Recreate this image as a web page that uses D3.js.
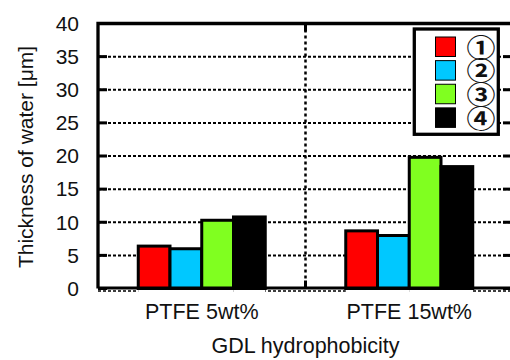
<!DOCTYPE html>
<html>
<head>
<meta charset="utf-8">
<script src="https://cdn.jsdelivr.net/npm/d3@7"></script>
<style>
	body { margin: 0; background: #fff; }
	text { font-family: 'Liberation Sans', Arial, sans-serif; fill: #111; }
</style>
</head>
<body>
<div id="chart"></div>
<script>
// data
const categories = ['PTFE 5wt%', 'PTFE 15wt%']
const series = ['①', '②', '③', '④']
const series1 = [6.4, 8.7]
const series2 = [6.0, 8.0]
const series3 = [10.3, 19.8]
const series4 = [10.8, 18.4]
const yTicks = [0, 5, 10, 15, 20, 25, 30, 35, 40]
const colors = ['#ff0000', '#00c8ff', '#80ff20', '#000000']

const values = [series1, series2, series3, series4]

const WIDTH = 510
const HEIGHT = 360
const LEFT = 98
const RIGHT = 513 // right border sits just outside the picture
const TOP = 23.5
const BOTTOM = 288.5
const GROUP_WIDTH = 127

const svg = d3.select('#chart').append('svg').attr('width', WIDTH).attr('height', HEIGHT)

const xScale = d3.scaleBand().domain(categories).range([LEFT, RIGHT])
const innerScale = d3
	.scaleBand()
	.domain(series)
	.range([(xScale.bandwidth() - GROUP_WIDTH) / 2, (xScale.bandwidth() + GROUP_WIDTH) / 2])
const yScale = d3.scaleLinear().domain([0, 40]).range([BOTTOM, TOP])

// grid lines
svg
	.append('g')
	.selectAll('line')
	.data(yTicks.filter(t => t > 0 && t < 40))
	.join('line')
	.attr('x1', LEFT)
	.attr('x2', RIGHT)
	.attr('y1', d => yScale(d))
	.attr('y2', d => yScale(d))
	.attr('stroke', '#000')
	.attr('stroke-width', 2)
	.attr('stroke-dasharray', '3,2')

// dotted line just under the x axis
svg
	.append('line')
	.attr('x1', LEFT)
	.attr('x2', RIGHT)
	.attr('y1', yScale(0) + 2.5)
	.attr('y2', yScale(0) + 2.5)
	.attr('stroke', '#000')
	.attr('stroke-width', 1.5)
	.attr('stroke-dasharray', '3,2')

// divider between the groups
const divX = xScale(categories[1])
svg
	.append('line')
	.attr('x1', divX)
	.attr('x2', divX)
	.attr('y1', TOP)
	.attr('y2', BOTTOM)
	.attr('stroke', '#000')
	.attr('stroke-width', 2.5)
	.attr('stroke-dasharray', '3,3')
svg
	.append('g')
	.selectAll('line')
	.data([[TOP, TOP + 8], [BOTTOM - 8, BOTTOM]])
	.join('line')
	.attr('x1', divX)
	.attr('x2', divX)
	.attr('y1', d => d[0])
	.attr('y2', d => d[1])
	.attr('stroke', '#000')
	.attr('stroke-width', 3)

// bars
const bars = svg
	.append('g')
	.selectAll('g')
	.data(series)
	.join('g')

bars
	.selectAll('rect.mask')
	.data((s, i) => categories.map((c, j) => ({ c, s, i, v: values[i][j] })))
	.join('rect')
	.attr('class', 'mask')
	.attr('x', d => xScale(d.c) + innerScale(d.s))
	.attr('y', yScale(0))
	.attr('width', innerScale.bandwidth())
	.attr('height', 4)
	.attr('fill', '#fff')

bars
	.selectAll('rect.bar')
	.data((s, i) => categories.map((c, j) => ({ c, s, i, v: values[i][j] })))
	.join('rect')
	.attr('class', 'bar')
	.attr('x', d => xScale(d.c) + innerScale(d.s))
	.attr('y', d => yScale(d.v))
	.attr('width', innerScale.bandwidth())
	.attr('height', d => yScale(0) - yScale(d.v))
	.attr('fill', d => colors[d.i])
	.attr('stroke', '#000')
	.attr('stroke-width', 3)

// frame
svg
	.append('path')
	.attr('d', `M${LEFT},${BOTTOM}V${TOP}H${RIGHT}`)
	.attr('fill', 'none')
	.attr('stroke', '#000')
	.attr('stroke-width', 3.3)
svg
	.append('line')
	.attr('x1', LEFT)
	.attr('x2', RIGHT)
	.attr('y1', BOTTOM - 0.5)
	.attr('y2', BOTTOM - 0.5)
	.attr('stroke', '#000')
	.attr('stroke-width', 3)

// y axis ticks, both sides
const yaxis = svg.append('g').attr('id', 'y-axis')
yaxis
	.selectAll('line.left')
	.data(yTicks)
	.join('line')
	.attr('class', 'left')
	.attr('x1', LEFT)
	.attr('x2', LEFT + 9)
	.attr('y1', d => yScale(d))
	.attr('y2', d => yScale(d))
	.attr('stroke', '#000')
	.attr('stroke-width', 3)
yaxis
	.selectAll('line.right')
	.data(yTicks)
	.join('line')
	.attr('class', 'right')
	.attr('x1', RIGHT - 10)
	.attr('x2', RIGHT)
	.attr('y1', d => yScale(d))
	.attr('y2', d => yScale(d))
	.attr('stroke', '#000')
	.attr('stroke-width', 3)
yaxis
	.selectAll('text')
	.data(yTicks)
	.join('text')
	.attr('x', LEFT - 19)
	.attr('y', d => yScale(d))
	.attr('dy', '0.35em')
	.attr('text-anchor', 'end')
	.attr('font-size', 21)
	.text(d => d)

// x axis labels
svg
	.append('g')
	.selectAll('text')
	.data(categories)
	.join('text')
	.attr('x', d => xScale(d) + xScale.bandwidth() / 2)
	.attr('y', 319)
	.attr('text-anchor', 'middle')
	.attr('font-size', 21.5)
	.text(d => d)

svg
	.append('text')
	.attr('x', (LEFT + RIGHT) / 2)
	.attr('y', 352.5)
	.attr('text-anchor', 'middle')
	.attr('font-size', 21.5)
	.text('GDL hydrophobicity')

svg
	.append('text')
	.attr('transform', 'translate(33,157) rotate(-90)')
	.attr('text-anchor', 'middle')
	.attr('font-size', 21)
	.text('Thickness of water [μm]')

// legend
const legend = svg.append('g').attr('id', 'legend')
legend
	.append('rect')
	.attr('x', 414.3)
	.attr('y', 29)
	.attr('width', 84)
	.attr('height', 105.3)
	.attr('fill', '#fff')
	.attr('stroke', '#000')
	.attr('stroke-width', 3.3)

const legendY = d3.scaleBand().domain(series).range([35, 129.5])

legend
	.selectAll('rect.key')
	.data(series)
	.join('rect')
	.attr('class', 'key')
	.attr('x', 435.5)
	.attr('y', d => legendY(d) + 2)
	.attr('width', 20)
	.attr('height', 19.5)
	.attr('fill', (d, i) => colors[i])
	.attr('stroke', '#000')
	.attr('stroke-width', 1)

// circled digits, scaled up and a little wider than tall like the original
legend
	.selectAll('text')
	.data(series)
	.join('text')
	.attr('transform', d => `translate(481,${legendY(d) + legendY.bandwidth() / 2 + 1}) scale(1.45,1.25)`)
	.attr('dy', '0.36em')
	.attr('text-anchor', 'middle')
	.attr('font-size', 20)
	.attr('font-weight', 'bold')
	.style('font-family', "'Noto Sans CJK JP', sans-serif")
	.text(d => d)
</script>
</body>
</html>
